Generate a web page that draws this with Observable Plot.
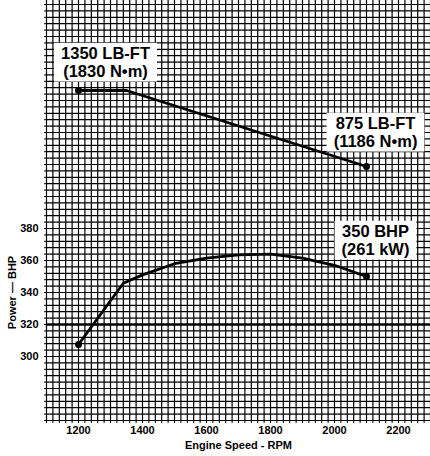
<!DOCTYPE html>
<html><head><meta charset="utf-8">
<script src="https://cdn.jsdelivr.net/npm/d3@7"></script>
<script src="https://cdn.jsdelivr.net/npm/@observablehq/plot@0.6"></script>
<style>
body{margin:0;background:#fff;}
#chart svg{display:block;}
</style></head><body><div id="chart"></div>
<script>
// Power curve (BHP vs RPM)
const powerRpm = [1200, 1340, 1400, 1500, 1600, 1700, 1800, 1900, 2000, 2100];
const powerBhp = [307.5, 345.8, 351, 358, 361.5, 363.5, 364, 361.5, 357, 350];
// Torque curve (lb-ft vs RPM), drawn on a hidden torque axis
const torqueRpm = [1200, 1350, 2100];
const torqueLbFt = [1350, 1350, 875];
// tick labels
const xTickLabels = [1200, 1400, 1600, 1800, 2000, 2200];
const yTickLabels = [300, 320, 340, 360, 380];
// annotations
const torqueStartLabel = "1350 LB-FT\n(1830 N•m)";
const torqueEndLabel = "875 LB-FT\n(1186 N•m)";
const powerEndLabel = "350 BHP\n(261 kW)";

// hidden torque axis: 10 lb-ft per BHP grid unit
const TORQUE_PER_UNIT = 10, TORQUE_OFFSET = 331.25;
const torqueToY = t => t / TORQUE_PER_UNIT + TORQUE_OFFSET;

const power = powerRpm.map((r, i) => ({rpm: r, bhp: powerBhp[i]}));
const torque = torqueRpm.map((r, i) => ({rpm: r, tq: torqueLbFt[i]}));

const FONT = "'Liberation Sans', Arial, Helvetica, sans-serif";
const annoStyle = {fontSize: 16.5, fontWeight: "bold", lineHeight: 1.08, textAnchor: "middle", lineAnchor: "middle", fill: "#000", className: "anno"};

const plot = Plot.plot({
  width: 430, height: 456,
  marginTop: 0, marginRight: 0, marginBottom: 36, marginLeft: 46,
  style: {fontFamily: FONT, fontWeight: "bold", fontSize: "11px", color: "#000", background: "#fff"},
  x: {domain: [1100, 2300]},
  y: {domain: [260, 522.5]},
  marks: [
    Plot.ruleX(d3.range(1100, 2301, 20), {stroke: "#000", strokeWidth: 1.2}),
    Plot.ruleY(d3.range(260, 522, 4), {stroke: "#000", strokeWidth: 1.2}),
    Plot.ruleY([320], {stroke: "#000", strokeWidth: 2.4}),
    Plot.axisX({ticks: d3.range(1100, 2301, 20), tickSize: 3, tickPadding: 3,
      tickFormat: d => xTickLabels.includes(d) ? String(d) : "",
      label: "Engine Speed - RPM", labelAnchor: "center", labelArrow: "none", labelOffset: 28}),
    Plot.axisY({ticks: d3.range(260, 522, 4), tickSize: 2, tickPadding: 6,
      tickFormat: d => yTickLabels.includes(d) ? String(d) : "", label: null}),
    Plot.text(["Power — BHP"], {frameAnchor: "left", y: (yTickLabels[0] + yTickLabels[yTickLabels.length - 1]) / 2,
      dx: -34, rotate: -90, fontSize: 11, fontWeight: "bold", textAnchor: "middle", fill: "#000"}),
    Plot.line(power, {x: "rpm", y: "bhp", stroke: "#000", strokeWidth: 2.8, strokeLinejoin: "round"}),
    Plot.line(torque, {x: "rpm", y: d => torqueToY(d.tq), stroke: "#000", strokeWidth: 2.8, strokeLinejoin: "round"}),
    Plot.dot([power[0], power[power.length - 1]], {x: "rpm", y: "bhp", r: 3.5, fill: "#000", stroke: null}),
    Plot.dot([torque[0], torque[torque.length - 1]], {x: "rpm", y: d => torqueToY(d.tq), r: 3.5, fill: "#000", stroke: null}),
    Plot.text([torque[0]], {x: "rpm", y: d => torqueToY(d.tq), text: () => torqueStartLabel, dx: 27, dy: -28, ...annoStyle}),
    Plot.text([torque[torque.length - 1]], {x: "rpm", y: d => torqueToY(d.tq), text: () => torqueEndLabel, dx: 9, dy: -34, ...annoStyle}),
    Plot.text([power[power.length - 1]], {x: "rpm", y: "bhp", text: () => powerEndLabel, dx: 9, dy: -36, ...annoStyle})
  ]
});
document.getElementById("chart").append(plot);

// white boxes behind annotation labels
const NS = "http://www.w3.org/2000/svg";
plot.querySelectorAll(".anno text").forEach(t => {
  const b = t.getBBox();
  const r = document.createElementNS(NS, "rect");
  r.setAttribute("x", b.x - 7);
  r.setAttribute("y", b.y - 1.5);
  r.setAttribute("width", b.width + 14);
  r.setAttribute("height", b.height + 3);
  r.setAttribute("fill", "#fff");
  r.setAttribute("stroke", "none");
  if (t.getAttribute("transform")) r.setAttribute("transform", t.getAttribute("transform"));
  t.parentNode.insertBefore(r, t);
});
</script></body></html>
